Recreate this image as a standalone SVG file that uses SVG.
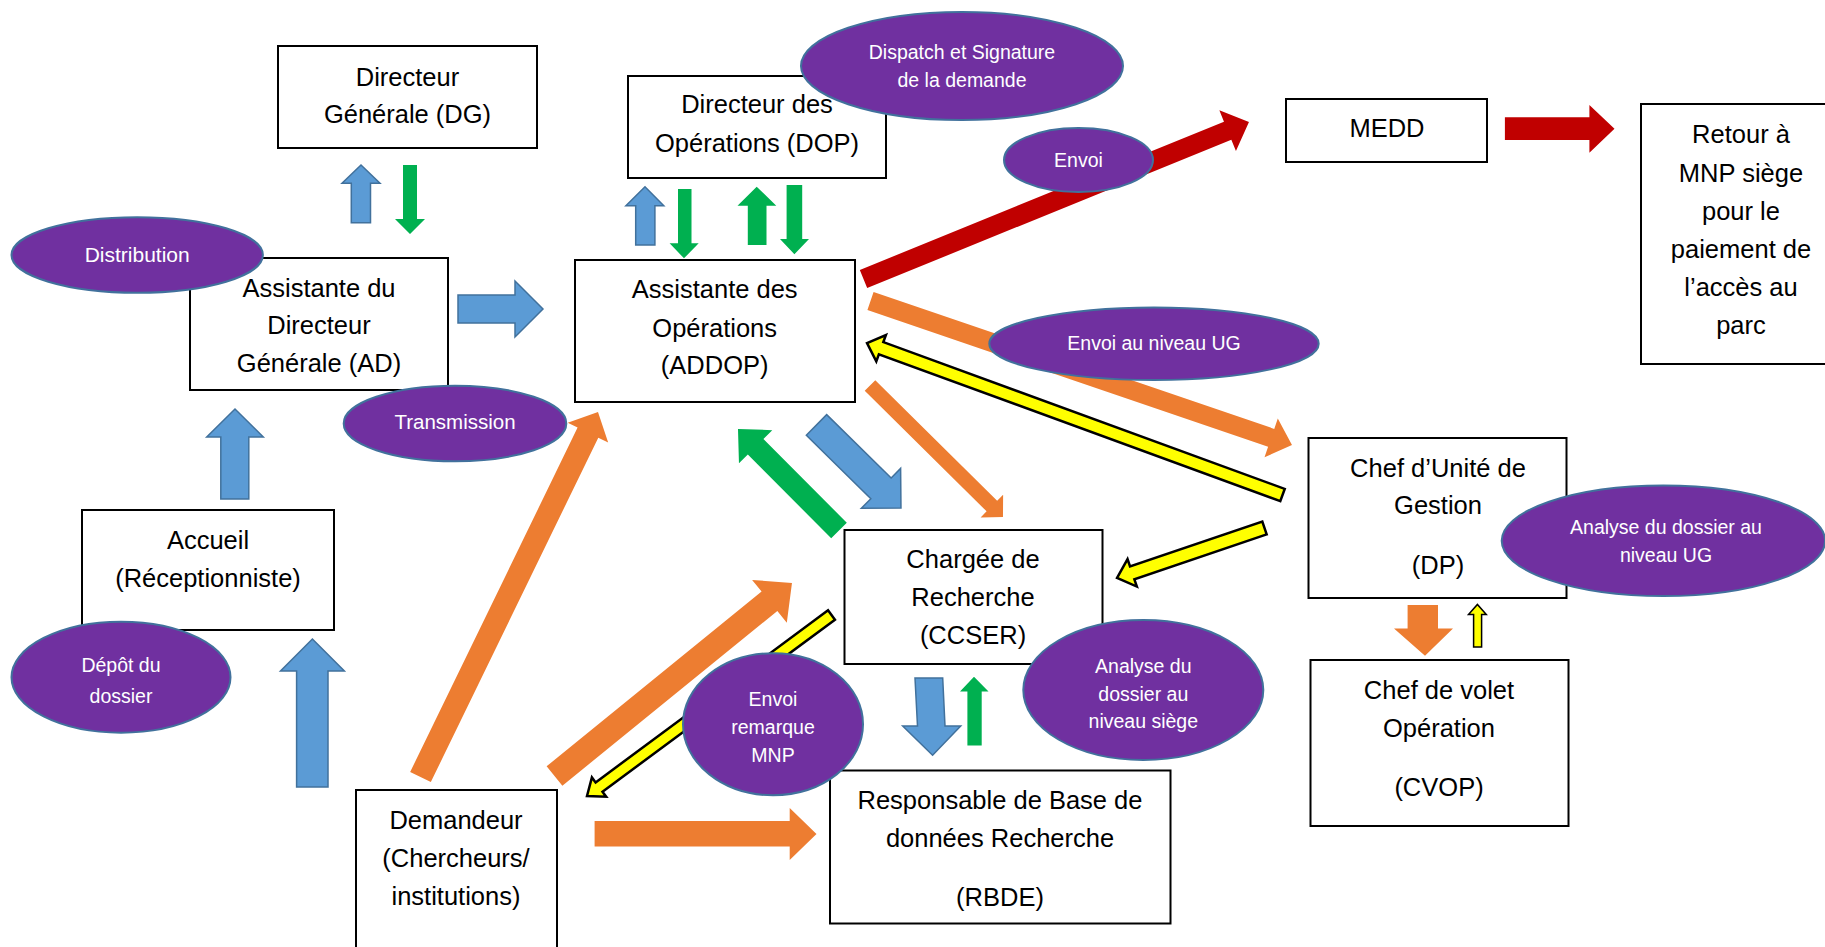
<svg xmlns="http://www.w3.org/2000/svg" width="1825" height="947" viewBox="0 0 1825 947">
<style>
.box{fill:#fff;stroke:#000;stroke-width:2}
.lbl{fill:#7030A0;stroke:#41719C;stroke-width:2}
.t{font-family:'Liberation Sans',Arial,sans-serif;font-size:25.5px;fill:#000;text-anchor:middle}
.lt{font-family:'Liberation Sans',Arial,sans-serif;font-size:19.5px;fill:#fff;text-anchor:middle}
.blue{fill:#5B9BD5;stroke:#41719C;stroke-width:1.5}
.green{fill:#00B050}
.orange{fill:#ED7D31}
.red{fill:#C00000}
.yellow{fill:#FFFF00;stroke:#000;stroke-width:2.5;stroke-linejoin:miter}
</style>
<rect width="1825" height="947" fill="#fff"/>
<g id="connectors">
  <polygon class="red" transform="translate(863.5,279) rotate(-22.16)" points="0,-9.75 393.2,-9.75 393.2,-22 416.2,0 393.2,22 393.2,9.75 0,9.75"/>
  <polygon class="orange" transform="translate(870.5,301) rotate(18.86)" points="0,-9.5 423.4,-9.5 423.4,-20.5 445.4,0 423.4,20.5 423.4,9.5 0,9.5"/>
  <polygon class="yellow" transform="translate(1282.5,495) rotate(-159.91)" points="0,-6.5 427.4,-6.5 427.4,-14 442.4,0 427.4,14 427.4,6.5 0,6.5"/>
  <polygon class="yellow" transform="translate(1264.5,528) rotate(161.27)" points="0,-6.8 139.7,-6.8 139.7,-14.5 155.7,0 139.7,14.5 139.7,6.8 0,6.8"/>
  <polygon class="orange" transform="translate(870,385.5) rotate(44.68)" points="0,-7.5 171.4,-7.5 171.4,-16 187,0 171.4,16 171.4,7.5 0,7.5"/>
  <polygon class="blue" transform="translate(816.5,425) rotate(44.49)" points="0,-14.5 90.4,-14.5 90.4,-28 118.4,0 90.4,28 90.4,14.5 0,14.5"/>
  <polygon class="green" transform="translate(839,530.5) rotate(-134.86)" points="0,-11 118.2,-11 118.2,-23.5 143.2,0 118.2,23.5 118.2,11 0,11"/>
  <polygon class="orange" transform="translate(554.5,776) rotate(-39.10)" points="0,-12.5 277,-12.5 277,-27.5 306,0 277,27.5 277,12.5 0,12.5"/>
  <polygon class="orange" transform="translate(420.5,777) rotate(-64.07)" points="0,-11.5 382.9,-11.5 382.9,-22.5 405.9,0 382.9,22.5 382.9,11.5 0,11.5"/>
  <polygon class="yellow" transform="translate(831.5,615) rotate(143.49)" points="0,-5.8 289.2,-5.8 289.2,-12 304.2,0 289.2,12 289.2,5.8 0,5.8"/>
  <polygon class="blue" points="351.3,222.7 351.3,183.3 342,183.3 361,165 380,183.3 370.5,183.3 370.5,222.7"/>
  <polygon class="green" points="403,165 417,165 417,219 425,219 410,234 395,219 403,219"/>
  <polygon class="blue" points="458,295 515,295 515,281 543,309 515,337 515,323 458,323"/>
  <polygon class="blue" points="220.8,499 220.8,437 206.7,437 235,409 263.3,437 248.8,437 248.8,499"/>
  <polygon class="blue" points="296.6,787 296.6,671 280.5,671 312.4,639 344.4,671 328,671 328,787"/>
  <polygon class="blue" points="635.7,245 635.7,205.7 625.9,205.7 645,186.7 663.8,205.7 654.9,205.7 654.9,245"/>
  <polygon class="green" points="678,189 691.5,189 691.5,243.3 698.7,243.3 684,258.3 669.6,243.3 678,243.3"/>
  <polygon class="green" points="747.8,245 747.8,205.7 737.5,205.7 756.7,186.7 776.3,205.7 766.5,205.7 766.5,245"/>
  <polygon class="green" points="786.6,185 802.2,185 802.2,239 809,239 794.4,254.3 780,239 786.6,239"/>
  <polygon class="red" points="1504.9,117.3 1589.4,117.3 1589.4,105 1614.5,128.7 1589.4,152.7 1589.4,140 1504.9,140"/>
  <polygon class="orange" points="594.6,821 789.7,821 789.7,808 816.5,834 789.7,860 789.7,846.6 594.6,846.6"/>
  <polygon class="blue" points="915,678 942.7,678 945,726 960.7,726 932.6,755.2 902.7,726 917.5,726"/>
  <polygon class="green" points="967.4,745.4 967.4,691.5 960,691.5 974,676.7 988.5,691.5 981.7,691.5 981.7,745.4"/>
  <polygon class="orange" points="1407.6,605 1438,605 1438,628.5 1453,628.5 1425,655.8 1394,628.5 1407.6,628.5"/>
  <polygon class="yellow" style="stroke-width:1.5" points="1473.6,647 1473.6,614.6 1468.5,614.6 1477.4,604.5 1486.3,614.6 1481.6,614.6 1481.6,647"/>
</g>
<g id="node-dg"><rect class="box" x="278" y="46" width="259" height="102"/><text class="t"><tspan x="407.5" y="86">Directeur</tspan><tspan x="407.5" y="123">Générale (DG)</tspan></text></g>
<g id="node-ad"><rect class="box" x="190" y="258" width="258" height="132"/><text class="t"><tspan x="319" y="297">Assistante du</tspan><tspan x="319" y="334">Directeur</tspan><tspan x="319" y="372">Générale (AD)</tspan></text></g>
<g id="node-dop"><rect class="box" x="628" y="76" width="258" height="102"/><text class="t"><tspan x="757" y="113">Directeur des</tspan><tspan x="757" y="152">Opérations (DOP)</tspan></text></g>
<g id="node-addop"><rect class="box" x="575" y="260" width="280" height="142"/><text class="t"><tspan x="714.7" y="298">Assistante des</tspan><tspan x="714.7" y="337">Opérations</tspan><tspan x="714.7" y="374">(ADDOP)</tspan></text></g>
<g id="node-medd"><rect class="box" x="1286" y="99" width="201" height="63"/><text class="t" x="1387" y="137">MEDD</text></g>
<g id="node-retour"><rect class="box" x="1641" y="104" width="200" height="260"/><text class="t"><tspan x="1741" y="143">Retour à</tspan><tspan x="1741" y="182">MNP siège</tspan><tspan x="1741" y="220">pour le</tspan><tspan x="1741" y="258">paiement de</tspan><tspan x="1741" y="296">l’accès au</tspan><tspan x="1741" y="334">parc</tspan></text></g>
<g id="node-accueil"><rect class="box" x="82" y="510" width="252" height="120"/><text class="t"><tspan x="208" y="549">Accueil</tspan><tspan x="208" y="587">(Réceptionniste)</tspan></text></g>
<g id="node-demandeur"><rect class="box" x="356" y="790" width="201" height="170"/><text class="t"><tspan x="456" y="829">Demandeur</tspan><tspan x="456" y="867">(Chercheurs/</tspan><tspan x="456" y="905">institutions)</tspan></text></g>
<g id="node-ccser"><rect class="box" x="844.5" y="530" width="258" height="134"/><text class="t"><tspan x="973" y="568">Chargée de</tspan><tspan x="973" y="606">Recherche</tspan><tspan x="973" y="644">(CCSER)</tspan></text></g>
<g id="node-rbde"><rect class="box" x="830" y="770.5" width="340.5" height="153"/><text class="t"><tspan x="1000" y="809">Responsable de Base de</tspan><tspan x="1000" y="847">données Recherche</tspan><tspan x="1000" y="906">(RBDE)</tspan></text></g>
<g id="node-dp"><rect class="box" x="1308.5" y="438" width="258" height="160"/><text class="t"><tspan x="1438" y="477">Chef d’Unité de</tspan><tspan x="1438" y="514">Gestion</tspan><tspan x="1438" y="574">(DP)</tspan></text></g>
<g id="node-cvop"><rect class="box" x="1310.5" y="660" width="258" height="166"/><text class="t"><tspan x="1439" y="699">Chef de volet</tspan><tspan x="1439" y="737">Opération</tspan><tspan x="1439" y="796">(CVOP)</tspan></text></g>
<g id="label-distribution"><ellipse class="lbl" cx="137.2" cy="255" rx="125.7" ry="37.8"/><text class="lt" x="137.2" y="262" style="font-size:21px">Distribution</text></g>
<g id="label-transmission"><ellipse class="lbl" cx="455" cy="423.5" rx="111.3" ry="37.8"/><text class="lt" x="455" y="429" style="font-size:20.5px">Transmission</text></g>
<g id="label-dispatch"><ellipse class="lbl" cx="962" cy="66" rx="161" ry="54"/><text class="lt"><tspan x="962" y="59">Dispatch et Signature</tspan><tspan x="962" y="87">de la demande</tspan></text></g>
<g id="label-envoi"><ellipse class="lbl" cx="1078.5" cy="160" rx="74.5" ry="32"/><text class="lt" x="1078.5" y="167">Envoi</text></g>
<g id="label-envoi-ug"><ellipse class="lbl" cx="1154" cy="343.7" rx="164.7" ry="36.3"/><text class="lt" x="1154" y="350">Envoi au niveau UG</text></g>
<g id="label-depot"><ellipse class="lbl" cx="121" cy="677.2" rx="109.5" ry="55.5"/><text class="lt"><tspan x="121" y="672">Dépôt du</tspan><tspan x="121" y="703">dossier</tspan></text></g>
<g id="label-envoi-mnp"><ellipse class="lbl" cx="773" cy="724.2" rx="90" ry="71"/><text class="lt"><tspan x="773" y="706">Envoi</tspan><tspan x="773" y="734">remarque</tspan><tspan x="773" y="762">MNP</tspan></text></g>
<g id="label-analyse-siege"><ellipse class="lbl" cx="1143.3" cy="690" rx="120" ry="70"/><text class="lt"><tspan x="1143.3" y="673">Analyse du</tspan><tspan x="1143.3" y="701">dossier au</tspan><tspan x="1143.3" y="728">niveau siège</tspan></text></g>
<g id="label-analyse-ug"><ellipse class="lbl" cx="1663.4" cy="540.8" rx="161.7" ry="55.3"/><text class="lt"><tspan x="1666" y="534">Analyse du dossier au</tspan><tspan x="1666" y="562">niveau UG</tspan></text></g>
</svg>
